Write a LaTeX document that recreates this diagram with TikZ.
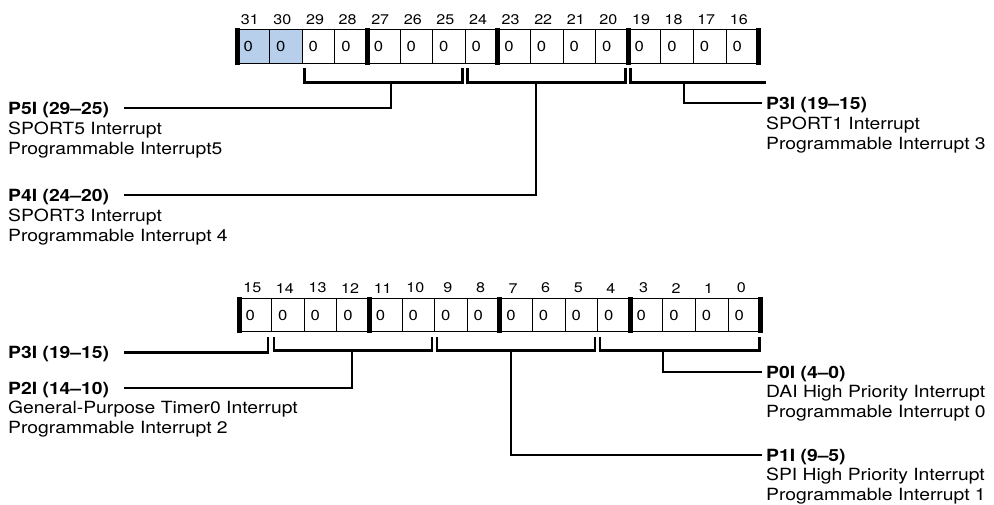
\documentclass[tikz,border=0pt]{standalone}
\usepackage{fontspec}
\setmainfont{TeX Gyre Heros}[FakeStretch=1.15]
\usetikzlibrary{positioning}
\definecolor{bitblue}{RGB}{184,207,236}

\begin{document}
\begin{tikzpicture}[
  x=1pt, y=1pt,
  cell/.style={draw, line width=0.9pt, outer sep=0pt, inner xsep=6.5pt,
               inner ysep=0pt, text width=19.6pt, align=left,
               minimum height=33.5pt, font=\fontsize{14.5}{15}\selectfont},
  hl31/.style={fill=bitblue}, hl30/.style={fill=bitblue},
  bitno/.style={inner sep=0pt, font=\fontsize{14}{15}\selectfont},
  sepbar/.style={line width=5pt, shorten <=-1.5pt, shorten >=-1.5pt},
  brk/.style={line width=2.6pt, line join=miter},
  lead/.style={line width=2.2pt},
  title/.style={inner sep=0pt, anchor=west, text height=12pt, text depth=0pt,
                font=\fontsize{16.8}{20}\selectfont\bfseries},
  desc/.style={inner sep=0pt, align=left, font=\fontsize{16.8}{20}\selectfont}
]
\useasboundingbox (0,0) rectangle (994,-504);

\foreach \i in {31,...,16}
  \node[cell, hl\i/.try] (t\i) at ({237+32.6*(31-\i)+16.3},-46.5) {0};
\foreach \i in {15,...,0}
  \node[cell] (b\i) at ({239+32.6*(15-\i)+16.3},-315) {0};
\foreach \i in {31,...,16}
  \node[bitno, above=5pt of t\i.north, xshift=-3.5pt] (n\i) {\i};
\foreach \i in {15,...,0}
  \node[bitno, above=5pt of b\i.north, xshift=-3pt] (n\i) {\i};

\foreach \i in {31,27,23,19}
  \draw[sepbar] (t\i.north west) -- (t\i.south west);
\draw[sepbar] (t16.north east) -- (t16.south east);
\foreach \i in {15,11,7,3}
  \draw[sepbar] (b\i.north west) -- (b\i.south west);
\draw[sepbar] (b0.north east) -- (b0.south east);

\node[title] (p5i) at (8,-108) {P5I (29--25)};
\node[desc, below=8pt of p5i.south west, anchor=north west] (d5i)
  {SPORT5 Interrupt\\Programmable Interrupt5};
\node[title] (p4i) at (8,-195) {P4I (24--20)};
\node[desc, below=8pt of p4i.south west, anchor=north west] (d4i)
  {SPORT3 Interrupt\\Programmable Interrupt 4};
\node[title] (p3t) at (766,-103) {P3I (19--15)};
\node[desc, below=8pt of p3t.south west, anchor=north west] (d3t)
  {SPORT1 Interrupt\\Programmable Interrupt 3};
\node[title] (p3b) at (8,-352.5) {P3I (19--15)};
\node[title] (p2i) at (8,-388) {P2I (14--10)};
\node[desc, below=7pt of p2i.south west, anchor=north west] (d2i)
  {General-Purpose Timer0 Interrupt\\Programmable Interrupt 2};
\node[title] (p0i) at (766,-372) {P0I (4--0)};
\node[desc, below=7pt of p0i.south west, anchor=north west] (d0i)
  {DAI High Priority Interrupt\\Programmable Interrupt 0};
\node[title] (p1i) at (766,-455) {P1I (9--5)};
\node[desc, below=7pt of p1i.south west, anchor=north west] (d1i)
  {SPI High Priority Interrupt\\Programmable Interrupt 1};

\draw[brk] ([shift={(2.5,-5)}]t29.south west) -- ++(0,-14)
  -| ([shift={(-2.5,-5)}]t25.south east);
\draw[brk] ([shift={(2.5,-5)}]t24.south west) -- ++(0,-14)
  -| ([shift={(-2.5,-5)}]t20.south east);
\draw[brk] ([shift={(2.5,-5)}]t19.south west) -- ++(0,-14) -- ++(135,0);
\draw[brk] ([shift={(2.5,-5)}]b14.south west) -- ++(0,-14)
  -| ([shift={(-2.5,-5)}]b10.south east);
\draw[brk] ([shift={(2.5,-5)}]b9.south west) -- ++(0,-14)
  -| ([shift={(-2.5,-5)}]b5.south east);
\draw[brk] ([shift={(2.5,-5)}]b4.south west) -- ++(0,-14)
  -| ([shift={(-1,-5)}]b0.south east);

\coordinate (s5) at (391,-82);
\coordinate (s4) at (535.7,-82);
\coordinate (s3) at (684,-82);
\coordinate (s2) at (352,-351);
\coordinate (s1) at (510.7,-351);
\coordinate (s0) at (663,-351);
\draw[lead] (s5) |- ([xshift=15pt]p5i.east);
\draw[lead] (s4) |- ([xshift=15pt]p4i.east);
\draw[lead] (s3) |- ([xshift=-4pt]p3t.west);
\draw[lead] ([xshift=15pt]p3b.east) -| ([shift={(-3.3,-5)}]b15.south east);
\draw[lead] (s2) |- ([xshift=15pt]p2i.east);
\draw[lead] (s1) |- ([xshift=-4pt]p1i.west);
\draw[lead] (s0) |- ([xshift=-4pt]p0i.west);
\end{tikzpicture}
\end{document}
